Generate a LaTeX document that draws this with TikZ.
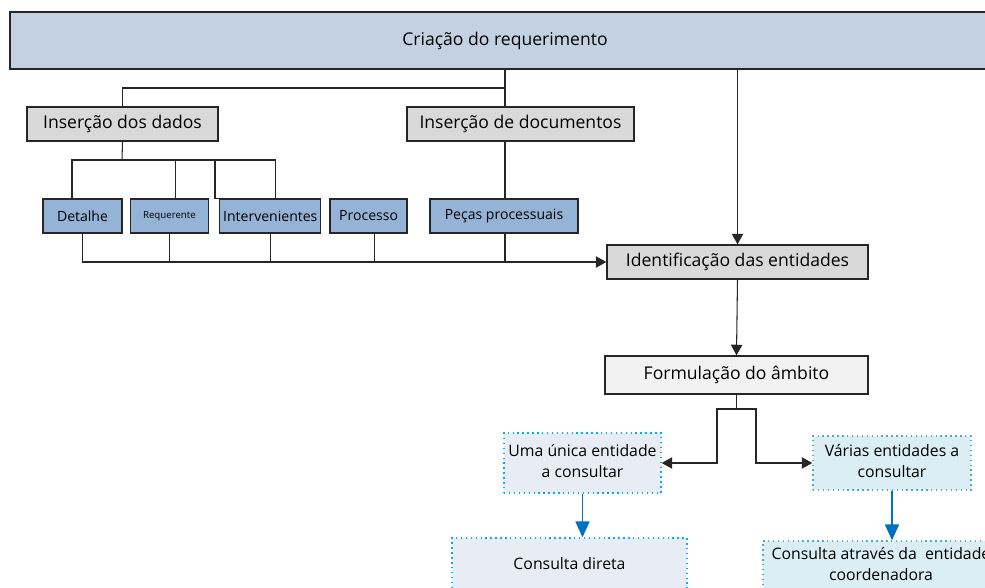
\documentclass[tikz,border=0pt]{standalone}
\usepackage{fontspec}
\setmainfont{Open Sans}
\usepackage{tikz}
\usetikzlibrary{arrows.meta,positioning,calc}
\definecolor{myheadblue}{RGB}{195,209,227}
\definecolor{mygrey}{RGB}{217,217,217}
\definecolor{mylightgrey}{RGB}{242,242,242}
\definecolor{myfieldblue}{RGB}{149,179,215}
\definecolor{mypaleblue}{RGB}{232,237,245}
\definecolor{mypalecyan}{RGB}{218,238,243}
\definecolor{mysky}{RGB}{0,176,240}
\definecolor{myteal}{RGB}{75,172,198}
\definecolor{myarrowblue}{RGB}{0,112,192}
\tikzstyle{stepbox}=[draw=black!85,line width=0.8pt,inner sep=0pt,align=center,font=\fontsize{10}{12}\selectfont]
\tikzstyle{greybox}=[stepbox,fill=mygrey,minimum height=0.68cm]
\tikzstyle{fieldbox}=[stepbox,fill=myfieldblue,minimum height=0.68cm,font=\fontsize{8}{9}\selectfont]
\tikzstyle{optionbox}=[draw=mysky,dotted,line width=0.8pt,fill=mypaleblue,inner sep=0pt,align=center,font=\fontsize{9}{12}\selectfont]
\tikzstyle{link}=[draw=black!85,line width=0.6pt]
\tikzstyle{tip}=[-{Triangle[length=6pt,width=6.5pt]}]
\tikzstyle{bluelink}=[draw=myarrowblue,line width=0.8pt,-{Triangle[length=9pt,width=8pt]}]

\begin{document}
\begin{tikzpicture}[x=0.02cm,y=-0.02cm]
\useasboundingbox (0,0) rectangle (985,588);
% steps
\node[stepbox,fill=myheadblue,minimum width=19.8cm,minimum height=1.14cm] (criacao) at (505,40.5) {Criação do requerimento};
\node[greybox,minimum width=3.82cm] (dados) at (122.5,124) {Inserção dos dados};
\node[greybox,minimum width=4.54cm] (docs) at (520.5,124) {Inserção de documentos};
% fields
\node[fieldbox,minimum width=1.58cm] (detalhe) at (82.5,216) {Detalhe};
\node[fieldbox,minimum width=1.56cm,right=0.14cm of detalhe,font=\fontsize{5.5}{6}\selectfont] (requerente) {Requerente};
\node[fieldbox,minimum width=2.02cm,right=0.2cm of requerente] (intervenientes) {Intervenientes};
\node[fieldbox,minimum width=1.54cm,right=0.16cm of intervenientes] (processo) {Processo};
\node[fieldbox,minimum width=2.96cm] (pecas) at (504,216) {Peças processuais};
\node[greybox,minimum width=5.22cm] (entidades) at (737.5,262) {Identificação das entidades};
\node[stepbox,fill=mylightgrey,minimum width=5.26cm,minimum height=0.76cm] (ambito) at (736.5,375) {Formulação do âmbito};
% options
\node[optionbox,minimum width=3.14cm,minimum height=1.2cm,text depth=0.1cm] (unica) at (582.5,463) {Uma única entidade\\a consultar};
\node[optionbox,draw=myteal,fill=mypalecyan,minimum width=3.16cm,minimum height=1.08cm,text depth=0.1cm] (varias) at (892,463) {Várias entidades a\\consultar};
\node[optionbox,minimum width=4.7cm,minimum height=1.04cm] (direta) at (569.5,564) {Consulta direta};
\node[optionbox,draw=myteal,fill=mypalecyan,minimum width=4.72cm,minimum height=1.12cm,text depth=0.2cm] (atraves) at (881,569) {Consulta através da~ entidade\\coordenadora};

% connectors
\coordinate (split) at (505,88);
\draw[link] (split |- criacao.south) -- (split |- docs.north);
\draw[link] (split) -| (dados.north);
\draw[link] (split |- docs.south) -- (split |- pecas.north);
\draw[link,tip] (criacao.south -| entidades.north) -- (entidades.north);

\coordinate (fork) at (122,160);
\draw[link] (dados.south) -- (fork);
\draw[link] (fork) -| ($(detalhe.north)+(-10.5,0)$);
\draw[link] (fork) -| ($(requerente.north)+(6,0)$);
\draw[link] (fork) -| ($(intervenientes.north)+(5.5,0)$);
\draw[link] (fork -| 215,0) |- (intervenientes.north west);

\draw[link,tip] (detalhe.south) |- (entidades.west);
\draw[link] (requerente.south) -- (requerente.south |- entidades.west);
\draw[link] (intervenientes.south) -- (intervenientes.south |- entidades.west);
\draw[link] ($(processo.south)+(5.5,0)$) -- ($(processo.south |- entidades.west)+(5.5,0)$);
\draw[link] (split |- pecas.south) -- (split |- entidades.west);

\draw[link,tip] (entidades.south) -- (ambito.north);
\coordinate (branch) at (736.5,409);
\draw[link] (ambito.south) -- (branch);
\draw[link,tip] (branch) -- ++(-19.5,0) |- (unica.east);
\draw[link,tip] (branch) -- ++(19.5,0) |- (varias.west);

\draw[bluelink] (unica.south) -- (unica.south |- direta.north);
\draw[bluelink] (varias.south) -- (varias.south |- atraves.north);
\end{tikzpicture}
\end{document}
